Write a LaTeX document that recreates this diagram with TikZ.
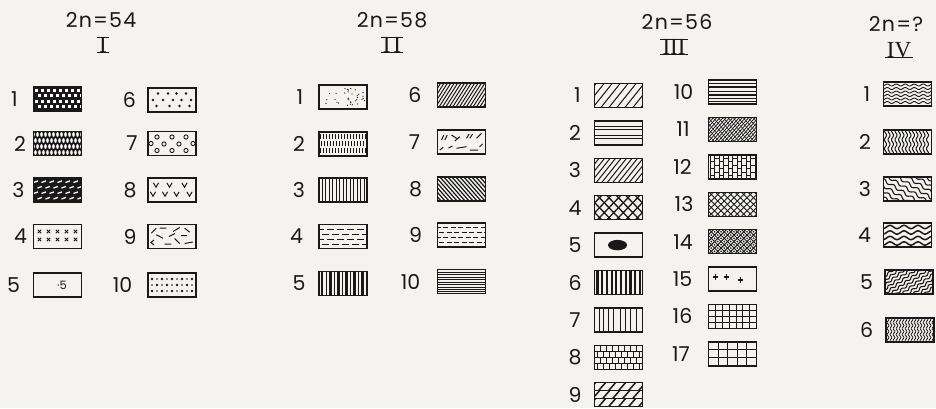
\documentclass[tikz,border=0pt]{standalone}
\usepackage{fontspec}
\setmainfont{Poppins}
\newfontfamily\ttlfont{Poppins}[LetterSpace=6]
\newfontfamily\romfont{Liberation Serif}
\definecolor{bg}{RGB}{244,243,239}
\definecolor{ink}{RGB}{25,25,25}
\tikzset{
  box/.style={draw=ink, line width=1.4pt, minimum width=48pt, minimum height=24pt, inner sep=0pt},
  lbl/.style={font=\fontsize{20.5}{20.5}\selectfont, text=ink, inner sep=0pt},
  ttl/.style={font=\ttlfont\fontsize{20.5}{20.5}\selectfont, text=ink, inner sep=0pt},
  rom/.style={font=\romfont\fontsize{23}{23}\selectfont, text=ink, inner xsep=2pt, inner ysep=0pt, text height=15pt, text depth=0pt},
  rombar/.style={draw=ink, line width=1.3pt},
}
\newcommand{\pat}[4]{%
  \begin{scope}[shift={(#2,#3)}]
    \begin{scope}
      \clip (-24,-12) rectangle (24,12);
      #4
    \end{scope}
  \end{scope}
  \node[box] (#1) at (#2,#3) {};}
% forward hatch "/" : spacing, line width, horizontal run
\newcommand{\fhatch}[3]{\foreach \kk in {0,...,40}{\pgfmathsetmacro\uu{-50+\kk*#1}\draw[ink,line width=#2] (\uu,12.5)--(\uu+#3,-12.5);}}
% backward hatch "\"
\newcommand{\bhatch}[3]{\foreach \kk in {0,...,40}{\pgfmathsetmacro\uu{-50+\kk*#1}\draw[ink,line width=#2] (\uu,-12.5)--(\uu+#3,12.5);}}
% horizontal wavy lines: offsets, amplitude, period, width
\newcommand{\hw}[4]{\foreach \yy in {#1}{\draw[ink,line width=#4] plot[domain=-27:27,samples=70,smooth] (\x,{\yy+#2*sin(\x*360/#3)});}}
% vertical wavy lines
\newcommand{\vw}[4]{\foreach \yy in {#1}{\draw[ink,line width=#4] plot[domain=-14:14,samples=40,smooth] ({\yy+#2*sin(\x*360/#3)},\x);}}
% rotated wavy lines
\newcommand{\rw}[5]{\begin{scope}[rotate=#5]\foreach \yy in {#1}{\draw[ink,line width=#4] plot[domain=-45:45,samples=110,smooth] (\x,{\yy+#2*sin(\x*360/#3)});}\end{scope}}
\begin{document}
\begin{tikzpicture}[x=1pt,y=-1pt]
\fill[bg] (0,0) rectangle (936,408);
\useasboundingbox (0,0) rectangle (936,408);

% ---------- titles ----------
\node[ttl] (t1) at (101,20) {2n=54};
\node[ttl] (t2) at (392,20) {2n=58};
\node[ttl] (t3) at (677,22) {2n=56};
\node[ttl] (t4) at (896,24) {2n=?};
\node[rom] (r1) at (103,45) {I};
\node[rom] (r2) at (392,45) {I\hspace{3pt}I};
\node[rom] (r3) at (674,47) {III};
\node[rom] (r4) at (899,50) {IV};
\foreach \r in {r1,r2,r3}{\draw[rombar] (\r.north west)--(\r.north east) (\r.south west)--(\r.south east);}
\draw[rombar] (r4.south west)--(r4.south east);

% ---------- labels ----------
\foreach \t/\lx/\ly in {1/14.5/99,2/20/143.5,3/18.5/190,4/20.5/236.5,5/13.5/285,
  6/129.5/100,7/132/143.5,8/130/190,9/130/236.5,10/122.5/285}
  {\node[lbl] (a\t) at (\lx,\ly) {\t};}
\foreach \t/\lx/\ly in {1/300/97,2/299/144,3/299/190,4/296.5/236.5,5/299/283.5,
  6/415/95,7/414.5/142,8/415.5/189,9/415.5/235,10/410.5/281.5}
  {\node[lbl] (b\t) at (\lx,\ly) {\t};}
\foreach \t/\lx/\ly in {1/577.5/95.5,2/575/132.9,3/575/170.3,4/575/207.7,5/575/245.1,6/575/282.5,7/575/319.9,8/575/357.3,9/575/394.7,
  10/683.5/92,11/683/129.4,12/682.5/166.8,13/684/204.2,14/683/241.6,15/682.5/279,16/682.5/316.4,17/681/353.8}
  {\node[lbl] (c\t) at (\lx,\ly) {\t};}
\foreach \t/\lx/\ly in {1/867/94,2/865/142,3/865/189,4/864.5/235,5/866.5/282,6/866.5/330}
  {\node[lbl] (d\t) at (\lx,\ly) {\t};}

% ================= group I =================
\pat{I1}{57.5}{99}{\fill[ink] (-24,-12) rectangle (24,12);
  \foreach \i in {0,...,7}{\foreach \j in {0,...,3}{\pgfmathsetmacro\xx{-23+\i*6+mod(\j,2)*3}\fill[white] (\xx,-10.5+\j*5.5) rectangle ++(3,3);}}}
\pat{I2}{57.5}{143.5}{\fill[ink] (-24,-12) rectangle (24,12);
  \foreach \i in {0,...,12}{\foreach \j in {0,...,3}{\pgfmathsetmacro\xx{-24+\i*4+mod(\j,2)*2}\fill[white] (\xx,-9+\j*6) ellipse (1.3 and 2.4);}}}
\pat{I3}{57.5}{190}{\fill[ink] (-24,-12) rectangle (24,12);
  \foreach \i in {0,...,6}{\foreach \j in {0,...,3}{\pgfmathsetmacro\xx{-24+\i*8+mod(\j,2)*4}\draw[white,line width=1.3pt] (\xx,-7.5+\j*5.5)--++(4.5,-1.6);}}}
\pat{I4}{57.5}{236.5}{\foreach \i in {0,...,4}{\foreach \j in {0,1}{\pgfmathsetmacro\xx{-18+\i*9}\pgfmathsetmacro\yy{-5+\j*8}
  \draw[ink,line width=0.9pt] (\xx-1.7,\yy-1.7)--(\xx+1.7,\yy+1.7) (\xx-1.7,\yy+1.7)--(\xx+1.7,\yy-1.7);}}}
\pat{I5}{57.5}{285}{}
\node[text=ink,font=\fontsize{11.5}{11.5}\selectfont,inner sep=0pt] (I5t) at (62,285) {·5};
\pat{I6}{172}{100}{\foreach \p in {(-14,-6.5),(-4,-6.5),(4.5,-6.5),(14,-6.5),(-19,0),(-9,0),(1,0),(9.5,0),(19,0),(-15.5,6),(-2.5,6),(7.5,6),(17.5,6)}{\fill[ink] \p circle (1.4);}}
\pat{I7}{172}{143.5}{\foreach \p in {(-15,-6.5),(0,-6.5),(14,-6.5),(-21,0),(-8,0.5),(7,0.5),(21,0),(-15,7),(0,7),(14,7)}{\draw[ink,line width=0.9pt] \p circle (2.1);}}
\pat{I8}{172}{190}{\foreach \xx/\yy in {-16/-5,-2.5/-5,12.5/-5,-19/4,-7/4,4.5/4,17.5/4}{\draw[ink,line width=1pt] (\xx-2.6,\yy-2.2)--(\xx,\yy+2.2)--(\xx+2.6,\yy-2.2);}}
\pat{I9}{172}{236.5}{\draw[ink,line width=1pt] (-20.7,-3.3)--(-15.7,-8.3) (-12.3,-8.3)--(-5.7,-8.3) (1,-5)--(7.7,-9) (12.7,-8.3)--(17.7,-4.3)
  (-15.7,-1.7)--(-9,1.7) (-3,0)--(3,-3) (9,-1)--(15,-1) (-18,3.5)--(-21,6)--(-18,8.5) (-7.3,7.5)--(-0.7,7.5) (2.7,2)--(7.7,7) (12.7,7)--(21,5.5);}
\pat{I10}{172}{285}{\foreach \i in {0,...,8}{\foreach \j in {0,1,2}{\pgfmathsetmacro\xx{-20+\i*5}\pgfmathsetmacro\yy{-6+\j*6}
  \pgfmathsetmacro\rr{mod(\i+\j,2)==0 ? 1.35 : 0.8}\fill[ink] (\xx,\yy) circle (\rr);}}}

% ================= group II =================
\pat{II1}{343}{97}{\pgfmathsetseed{11}\foreach \i in {1,...,34}{\pgfmathsetmacro\xx{rand*22}\pgfmathsetmacro\yy{rand*10}\fill[ink] (\xx,\yy) circle (0.65);}}
\pat{II2}{343}{144}{\foreach \i in {0,...,15}{\foreach \j in {0,1,2}{\pgfmathsetmacro\xx{-23+\i*3+mod(\j,2)*1.5}\draw[ink,line width=0.8pt] (\xx,-10+\j*7)--++(0,5);}}}
\pat{II3}{343}{190}{\foreach \i in {0,...,12}{\draw[ink,line width=0.8pt] (-21+\i*3.5,-13)--++(0,26);}}
\pat{II4}{343}{236.5}{\foreach \i in {0,...,5}{\foreach \j in {0,...,3}{\pgfmathsetmacro\xx{-26+\i*10+mod(\j,2)*5}\draw[ink,line width=1pt] (\xx,-7+\j*5)--++(7,0);}}}
\pat{II5}{343}{283.5}{\foreach \xx/\ww in {-21/2.6,-16.5/0.9,-12.5/2.2,-8.5/0.8,-4.5/2.4,-0.5/0.9,3.5/2.2,7.5/0.8,11.5/2.4,15.5/0.9,19.5/2.4}{\draw[ink,line width=\ww pt] (\xx,-13)--++(0,26);}}
\pat{II6}{461.5}{95}{\fhatch{3.4}{1pt}{16}}
\pat{II7}{461.5}{142}{\draw[ink,line width=1pt] (-20,-2)--(-17.7,-7) (-16.7,-2)--(-14.3,-7) (-10,-7)--(-5,-3.7) (-6.7,-1)--(-1.7,-5.3) (5,-3.7)--(7.7,-8) (8.3,-3.7)--(11,-8) (15,-3.7)--(20,-8.7)
  (-21.7,8)--(-18.3,5.3) (-13,6)--(-9,4) (-5,6.3)--(5,4.7) (8.3,8)--(16.7,8) (18,5)--(21,2);}
\pat{II8}{461.5}{189}{\bhatch{4}{1.2pt}{22}}
\pat{II9}{461.5}{235}{\foreach \i in {0,...,7}{\foreach \j in {0,...,3}{\pgfmathsetmacro\xx{-26+\i*7.5+mod(\j,2)*3.7}\draw[ink,line width=0.9pt] (\xx,-7.5+\j*5)--++(5,0);}}}
\pat{II10}{461.5}{281.5}{\foreach \yy/\ww in {-9.5/0.9,-7/0.7,-4.5/1,-2/0.7,0.5/0.9,3/0.7,5.5/1,8/0.8,10/0.7}{\draw[ink,line width=\ww pt] (-25,\yy)--(25,\yy);}}

% ================= group III =================
\pat{III1}{618.5}{95.5}{\fhatch{8}{1pt}{20}}
\pat{III2}{618.5}{132.9}{\foreach \yy in {-6,-3,2.5,5.5}{\draw[ink,line width=0.9pt] (-25,\yy)--(25,\yy);}}
\pat{III3}{618.5}{170.3}{\fhatch{5.5}{1pt}{20}}
\pat{III4}{618.5}{207.7}{\fhatch{9.5}{1.3pt}{24}\bhatch{9.5}{1.3pt}{24}}
\pat{III5}{618.5}{245.1}{\fill[ink] (-1,0) ellipse (9.5 and 5.2);}
\pat{III6}{618.5}{282.5}{\foreach \i in {0,...,9}{\draw[ink,line width=2.2pt] (-21+\i*4.7,-13)--++(0,26);}}
\pat{III7}{618.5}{319.9}{\foreach \xx in {-19,-15,-10,-5,2,7,12,18}{\draw[ink,line width=0.9pt] (\xx,-13)--++(0,26);}}
\pat{III8}{618.5}{357.3}{\foreach \yy in {-6,0,6}{\draw[ink,line width=0.8pt] (-25,\yy)--(25,\yy);}
  \foreach \i in {0,...,8}{\foreach \j in {0,...,3}{\pgfmathsetmacro\xx{-24+\i*6+mod(\j,2)*3}\draw[ink,line width=0.7pt] (\xx,-12+\j*6)--++(0,6);}}}
\pat{III9}{618.5}{394.7}{\draw[ink,line width=1.1pt] (-25,-4)--(25,-4) (-25,4)--(25,4);
  \foreach \i in {0,...,6}{\pgfmathsetmacro\xx{-30+\i*10}\draw[ink,line width=1.5pt] (\xx,-4)--++(7,-8) (\xx+4,4)--++(7,-8) (\xx,12)--++(7,-8);}}

\pat{III10}{732.5}{92}{\foreach \yy/\ww in {-9/0.8,-5/1.9,-1/0.6,3/1.9,6.5/0.6,9.5/1.3}{\draw[ink,line width=\ww pt] (-25,\yy)--(25,\yy);}}
\pat{III11}{732.5}{129.4}{\fhatch{3.2}{0.8pt}{22}\bhatch{5}{0.5pt}{22}}
\pat{III12}{732.5}{166.8}{\foreach \i in {0,...,10}{\draw[ink,line width=0.8pt] (-22.5+\i*4.5,-13)--++(0,26);}
  \foreach \i in {0,...,10}{\foreach \j in {0,...,3}{\pgfmathsetmacro\yy{-12+\j*7+mod(\i,2)*3.5}\draw[ink,line width=0.7pt] (-22.5+\i*4.5,\yy)--++(4.5,0);}}}
\pat{III13}{732.5}{204.2}{\fhatch{6.5}{0.9pt}{25}\bhatch{6.5}{0.9pt}{25}}
\pat{III14}{732.5}{241.6}{\fhatch{6.5}{0.9pt}{25}\bhatch{6.5}{0.9pt}{25}
  \foreach \kk in {0,...,15}{\foreach \mm in {0,...,15}{\pgfmathsetmacro\aa{-37.5+(\kk+0.5)*6.5}\pgfmathsetmacro\bb{-37.5+(\mm+0.5)*6.5}\fill[ink] ({(\aa+\bb)/2},{(\aa-\bb)/2}) circle (0.9);}}}
\pat{III15}{732.5}{279}{\foreach \xx/\yy in {-17/-2,-6/-2,8/1}{\draw[ink,line width=1.2pt] (\xx-2.7,\yy)--(\xx+2.7,\yy) (\xx,\yy-2.7)--(\xx,\yy+2.7);}}
\pat{III16}{732.5}{316.4}{\foreach \i in {1,...,6}{\draw[ink,line width=0.9pt] (-24+\i*6.86,-13)--++(0,26);}\foreach \yy in {-6,0,6}{\draw[ink,line width=0.9pt] (-25,\yy)--(25,\yy);}}
\pat{III17}{732.5}{353.8}{\foreach \xx in {-14.4,-4.8,4.8,14.4}{\draw[ink,line width=1pt] (\xx,-13)--++(0,26);}\foreach \yy in {-4,4}{\draw[ink,line width=1pt] (-25,\yy)--(25,\yy);}}

% ================= group IV =================
\pat{IV1}{907.5}{94}{\hw{-9,-5.5,-2,1.5,5,8.5}{1}{9}{0.9pt}}
\pat{IV2}{907.5}{142}{\vw{-22,-18.5,-15,-11.5,-8,-4.5,-1,2.5,6,9.5,13,16.5,20}{1}{9}{1pt}}
\pat{IV3}{907.5}{189}{\rw{-30,-25,-20,-15,-10,-5,0,5,10,15,20,25,30}{1.3}{11}{1.1pt}{-32}}
\pat{IV4}{907.5}{235}{\hw{-8,-2.5,3,8.5}{1.6}{14}{1.5pt}}
\pat{IV5}{909}{282}{\rw{-30,-26.5,-23,-19.5,-16,-12.5,-9,-5.5,-2,1.5,5,8.5,12,15.5,19,22.5,26,29.5}{1}{8}{1.1pt}{38}}
\pat{IV6}{910}{330}{\vw{-22,-19,-16,-13,-10,-7,-4,-1,2,5,8,11,14,17,20,23}{0.9}{6}{0.8pt}}
\end{tikzpicture}
\end{document}
